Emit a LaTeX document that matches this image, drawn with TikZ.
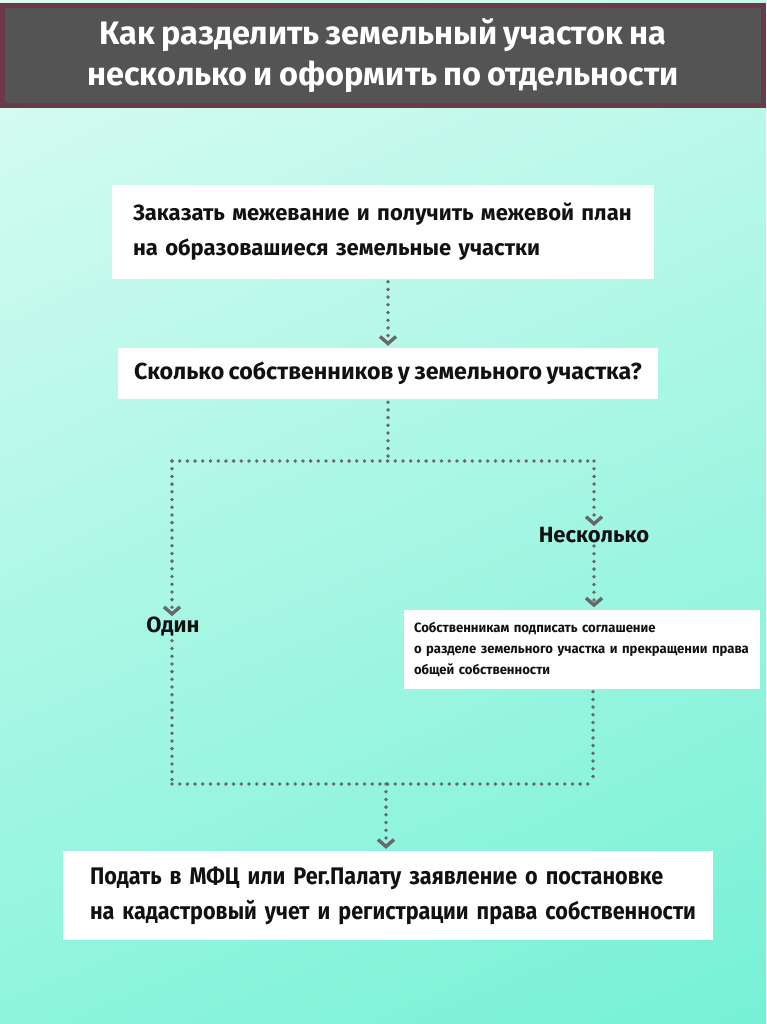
\documentclass[tikz,border=0pt]{standalone}
\usepackage{fontspec}
\setmainfont{Fira Sans}
\newfontfamily\titlefont{Fira Sans}[FakeStretch=1.0, WordSpace=0.8]
\newfontfamily\bodyfont{Fira Sans}[FakeStretch=1.0, WordSpace=0.8]
\newfontfamily\smallfont{Fira Sans}[FakeStretch=0.97, WordSpace=0.8]
\newfontfamily\condfont{Fira Sans}[FakeStretch=0.9, WordSpace=0.75]
\usetikzlibrary{arrows.meta,shadings}
\definecolor{bgA}{HTML}{DCFCF3}
\definecolor{bgB}{HTML}{C2F9EB}
\definecolor{bgC}{HTML}{8EF4DE}
\definecolor{bgD}{HTML}{76F1D6}
\definecolor{titlegray}{HTML}{545454}
\definecolor{titleborder}{HTML}{6A3A4A}
\definecolor{dotgray}{HTML}{686868}
\definecolor{ink}{HTML}{111111}
\begin{document}
\begin{tikzpicture}[x=1pt,y=-1pt,
  box/.style={fill=white, draw=none, inner ysep=0pt, text=ink},
  dots/.style={draw=dotgray, line width=3.8pt, line cap=round, dash pattern=on 0pt off 7.7pt},
  arr/.style={dots, -{Straight Barb[length=7pt,width=16pt,line width=3.4pt]}},
  lbl/.style={text=ink, inner sep=1pt}
]
\useasboundingbox (0,0) rectangle (766,1024);
\shade[upper left=bgA, upper right=bgB, lower left=bgC, lower right=bgD] (0,0) rectangle (766,1024);

\node[fill=titlegray, draw=titleborder, line width=5pt, minimum width=761pt, minimum height=100pt,
  text=white, align=center, font=\titlefont\bfseries\fontsize{32.5}{41}\selectfont, inner sep=0pt]
  (title) at (383,55.5) {Как разделить земельный участок на\\несколько и оформить по отдельности};

\node[box, minimum width=542pt, minimum height=93pt, text width=500pt, inner xsep=21pt, align=left,
  font=\bodyfont\bfseries\fontsize{22}{35}\selectfont] (b1) at (383,232)
  {Заказать межевание и получить межевой план\\на образовашиеся земельные участки};

\node[box, minimum width=540pt, minimum height=51pt, align=center,
  font=\bodyfont\bfseries\fontsize{23.2}{26}\selectfont] (b2) at (388,373.5)
  {Сколько собственников у земельного участка?};

\node[lbl, font=\bodyfont\bfseries\fontsize{22}{26}\selectfont] (nesk) at (594,535) {Несколько};
\node[lbl, font=\bodyfont\bfseries\fontsize{22}{26}\selectfont] (odin) at (173,627) {Один};

\node[box, minimum width=356pt, minimum height=79pt, text width=338pt, inner xsep=9pt, align=left,
  font=\smallfont\bfseries\fontsize{13.5}{21}\selectfont] (b3) at (582,649)
  {\hspace*{1pt}Собственникам подписать соглашение\\\hspace*{1pt}о разделе земельного участка и прекращении права\\\hspace*{1pt}общей собственности};

\node[box, minimum width=650pt, minimum height=89pt, text width=640pt, inner xsep=5pt, align=left,
  font=\condfont\bfseries\fontsize{24}{35}\selectfont] (b4) at (388,895.5)
  {\hspace*{22pt}Подать в МФЦ или Рег.Палату заявление о постановке\\\hspace*{22pt}на кадастровый учет и регистрации права собственности};

\coordinate (jc) at (388,461);
\coordinate (jl) at (172,461);
\coordinate (jr) at (594,461);
\coordinate (kl) at (172,784);
\coordinate (kr) at (593,784);
\coordinate (kc) at (386,784);

\draw[arr, shorten <=3pt, shorten >=2pt] (b1.south -| b2.north) -- (b2.north);
\draw[dots, shorten <=3pt] (b2.south) -- (jc);
\draw[dots] (jl) -- (jr);
\draw[arr] (jl) -- (odin.north -| jl);
\draw[arr] (jr) -- (nesk.north -| jr);
\draw[arr, shorten <=2pt, shorten >=2pt] (nesk.south -| jr) -- (b3.north -| jr);
\draw[dots, shorten <=3pt] (odin.south -| kl) -- (kl);
\draw[dots, shorten <=3pt] (b3.south -| kr) -- (kr);
\draw[dots] (kl) -- (kr);
\draw[arr, shorten >=2pt] (kc) -- (b4.north -| kc);
\end{tikzpicture}
\end{document}
